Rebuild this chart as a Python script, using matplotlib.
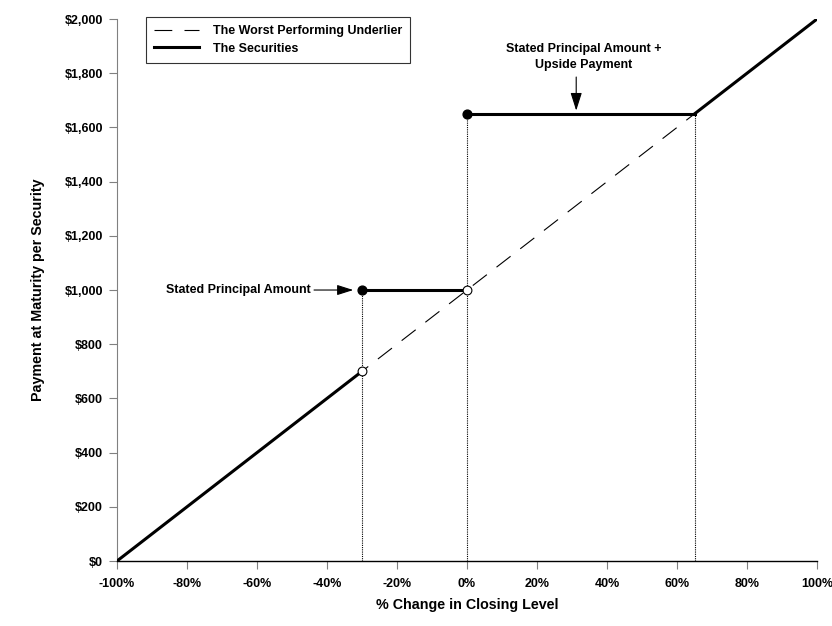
import matplotlib
matplotlib.use("Agg")
import matplotlib.pyplot as plt
from matplotlib import font_manager
import numpy as np

# Data
underlier_x = [-100, 100]
underlier_y = [0, 2000]
seg1_x = [-100, -30]; seg1_y = [0, 700]
seg2_x = [-30, 0]; seg2_y = [1000, 1000]
seg3_x = [0, 65]; seg3_y = [1650, 1650]
seg4_x = [65, 100]; seg4_y = [1650, 2000]
open_x = [-30, 0]; open_y = [700, 1000]
filled_x = [-30, 0]; filled_y = [1000, 1650]
vline_x = [-30, 0, 65]
vline_top = [1000, 1650, 1650]
xticks = list(range(-100, 101, 20))
yticks = list(range(0, 2001, 200))

names = {f.name for f in font_manager.fontManager.ttflist}
narrow = 'Liberation Sans Narrow' in names
fam = ['Liberation Sans Narrow', 'Liberation Sans', 'DejaVu Sans'] if narrow else ['Liberation Sans', 'DejaVu Sans']
fs = 10.8 if narrow else 9.0
plt.rcParams['font.family'] = fam
plt.rcParams['font.weight'] = 'bold'

fig = plt.figure(figsize=(8.32, 6.26), dpi=100)
ax = fig.add_axes([0.1406, 0.1038, 0.8414, 0.8658])

ax.plot(underlier_x, underlier_y, color='black', lw=0.8, ls=(0, (16, 11)),
        label='The Worst Performing Underlier', zorder=2)
ax.plot(seg1_x, seg1_y, color='black', lw=2.2, label='The Securities', zorder=3)
ax.plot(seg2_x, seg2_y, color='black', lw=2.2, zorder=3)
ax.plot(seg3_x, seg3_y, color='black', lw=2.2, zorder=3)
ax.plot(seg4_x, seg4_y, color='black', lw=2.2, zorder=3)

for vx, vt in zip(vline_x, vline_top):
    ax.plot([vx, vx], [0, vt], color='black', lw=0.8, ls=(0, (1, 1)), zorder=1)

ax.scatter(open_x, open_y, s=40, facecolor='white', edgecolor='black', lw=0.8, zorder=5)
ax.scatter(filled_x, filled_y, s=40, facecolor='black', edgecolor='black', zorder=5)

ax.annotate('Stated Principal Amount', xy=(-32.5, 1000), xytext=(-44.5, 1000),
            ha='right', va='center', fontsize=fs, fontweight='bold',
            arrowprops=dict(arrowstyle='-|>,head_length=1.1,head_width=0.35',
                            color='black', lw=0.8, shrinkA=0, shrinkB=0))
ax.annotate('', xy=(31.2, 1662), xytext=(31.2, 1786),
            arrowprops=dict(arrowstyle='-|>,head_length=1.1,head_width=0.35',
                            color='black', lw=0.8, shrinkA=0, shrinkB=0))
ax.text(33.3, 1860, 'Stated Principal Amount +\nUpside Payment', ha='center', va='center',
        fontsize=fs, fontweight='bold', linespacing=1.4)

ax.set_xlim(-100, 100)
ax.set_ylim(0, 2000)
ax.set_xticks(xticks)
ax.set_xticklabels([f'{t}%' for t in xticks])
ax.set_yticks(yticks)
ax.set_yticklabels([f'${t:,}' for t in yticks])
ax.tick_params(axis='both', labelsize=fs, direction='out', length=6, width=0.8)
ax.tick_params(axis='y', color='#808080', pad=4)
ax.tick_params(axis='x', color='#808080', pad=6)
for lab in ax.get_xticklabels() + ax.get_yticklabels():
    lab.set_fontweight('bold')

ax.spines['top'].set_visible(False)
ax.spines['right'].set_visible(False)
ax.spines['left'].set_color('#808080')
ax.spines['bottom'].set_color('black')
ax.spines['bottom'].set_linewidth(1.0)

ax.set_xlabel('% Change in Closing Level', fontsize=fs + 1.3, fontweight='bold', labelpad=6)
ax.set_ylabel('Payment at Maturity per Security', fontsize=fs + 1.3, fontweight='bold', labelpad=14)

leg = ax.legend(loc='upper left', bbox_to_anchor=(0.0414, 1.0037), borderaxespad=0,
                fontsize=fs, frameon=True, fancybox=False, edgecolor='black',
                handlelength=3.6, handletextpad=1.1, borderpad=0.65, labelspacing=0.45)
leg.get_frame().set_linewidth(0.8)
for t in leg.get_texts():
    t.set_fontweight('bold')

fig.savefig('out.png', dpi=100)
